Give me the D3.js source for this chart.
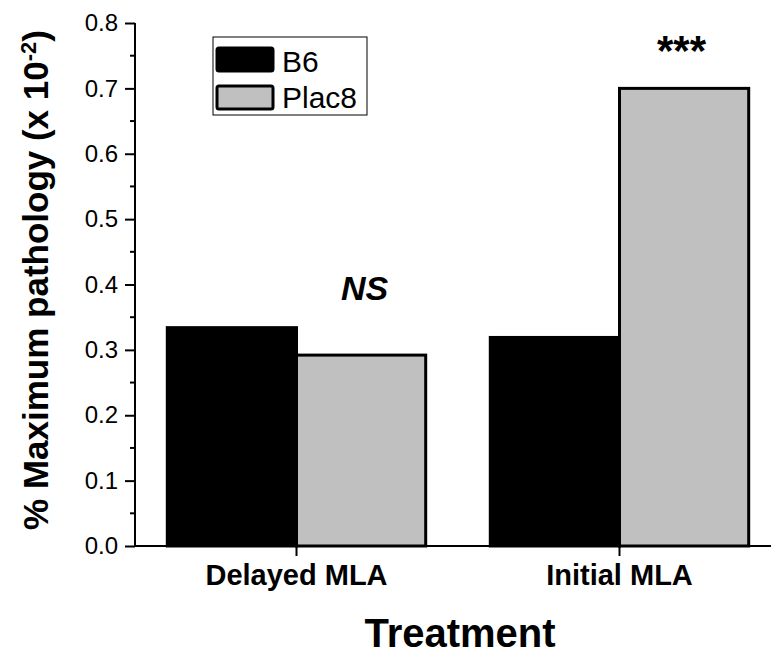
<!DOCTYPE html>
<html>
<head>
<meta charset="utf-8">
<script src="https://cdn.jsdelivr.net/npm/d3@7"></script>
<style>
  body { margin: 0; background: #fff; }
  text { font-family: "Liberation Sans", Arial, sans-serif; }
</style>
</head>
<body>
<svg width="771" height="656"></svg>
<script>
// data
const treatments = ["Delayed MLA", "Initial MLA"];
const groups = ["B6", "Plac8"];
const b6Values = [0.334, 0.319];
const plac8Values = [0.292, 0.700];
const annotations = ["NS", "***"];
const yTicks = [0, 0.1, 0.2, 0.3, 0.4, 0.5, 0.6, 0.7, 0.8];

const svg = d3.select("svg");
const fills = { B6: "#000000", Plac8: "#c0c0c0" };

// treatments sit at positions 1 and 2
const x = d3.scaleLinear().domain([0.5, 2.5]).range([135, 781]);
const y = d3.scaleLinear().domain([0, 0.8]).range([546, 23]);
const barW = 0.4;

const series = [
    { name: "B6", values: b6Values, offset: -barW },
    { name: "Plac8", values: plac8Values, offset: 0 }
];

series.forEach(s => {
    svg.selectAll(".bar-" + s.name)
        .data(s.values)
        .enter().append("rect")
        .attr("x", (d, i) => x(i + 1 + s.offset))
        .attr("width", x(barW) - x(0))
        .attr("y", d => y(d))
        .attr("height", d => y(0) - y(d))
        .attr("fill", fills[s.name])
        .attr("stroke", "#000")
        .attr("stroke-width", 3);
});

// y axis
const yAxis = svg.append("g")
    .attr("transform", "translate(135,0)")
    .call(d3.axisLeft(y).tickValues(yTicks).tickFormat(d3.format(".1f")).tickSize(10).tickPadding(7));
yAxis.selectAll("text").style("font-size", "24px").attr("fill", "#000");
yAxis.selectAll("line, path").attr("stroke", "#000").attr("stroke-width", 2);
yAxis.select(".domain").attr("d", `M0,${y(0)}V${y(0.8)}`);

// minor ticks
svg.append("g").selectAll("line")
    .data(d3.range(8).map(i => i * 0.1 + 0.05))
    .enter().append("line")
    .attr("x1", 130).attr("x2", 135)
    .attr("y1", d => y(d)).attr("y2", d => y(d))
    .attr("stroke", "#000").attr("stroke-width", 2);

// x axis
svg.append("line")
    .attr("x1", 135).attr("x2", 771)
    .attr("y1", y(0)).attr("y2", y(0))
    .attr("stroke", "#000").attr("stroke-width", 2);
svg.append("g").selectAll("line")
    .data(treatments)
    .enter().append("line")
    .attr("x1", (d, i) => x(i + 1)).attr("x2", (d, i) => x(i + 1))
    .attr("y1", y(0)).attr("y2", y(0) + 10)
    .attr("stroke", "#000").attr("stroke-width", 2);
svg.append("g").selectAll("text")
    .data(treatments)
    .enter().append("text")
    .attr("x", (d, i) => x(i + 1))
    .attr("y", 585)
    .attr("text-anchor", "middle")
    .style("font-size", "29px")
    .style("font-weight", "bold")
    .text(d => d);

// axis titles
svg.append("text")
    .attr("x", 460).attr("y", 647)
    .attr("text-anchor", "middle")
    .style("font-size", "40px")
    .style("font-weight", "bold")
    .text("Treatment");

const yt = svg.append("text")
    .attr("transform", "translate(48,280) rotate(-90)")
    .attr("text-anchor", "middle")
    .style("font-size", "35px")
    .style("font-weight", "bold");
yt.append("tspan").text("% Maximum pathology (x 10");
yt.append("tspan").attr("dy", -12).style("font-size", "22px").text("-2");
yt.append("tspan").attr("dy", 12).text(")");

// significance marks
svg.append("g").selectAll("text")
    .data(annotations)
    .enter().append("text")
    .attr("x", (d, i) => x(i + 1) + (i === 0 ? 68 : 62))
    .attr("y", (d, i) => i === 0 ? 300 : 65)
    .attr("text-anchor", "middle")
    .style("font-size", (d, i) => i === 0 ? "34px" : "42px")
    .style("font-weight", "bold")
    .style("font-style", (d, i) => i === 0 ? "italic" : "normal")
    .text(d => d);

// legend
const lg = svg.append("g").attr("transform", "translate(213,37)");
lg.append("rect")
    .attr("width", 154).attr("height", 78)
    .attr("fill", "#fff").attr("stroke", "#000").attr("stroke-width", 1);
groups.forEach((gname, i) => {
    lg.append("rect")
        .attr("x", 4).attr("y", 11 + i * 38)
        .attr("width", 56).attr("height", 23)
        .attr("rx", 2)
        .attr("fill", fills[gname])
        .attr("stroke", "#000").attr("stroke-width", 3);
    lg.append("text")
        .attr("x", 69).attr("y", 35 + i * 36)
        .style("font-size", "30px")
        .text(gname);
});
</script>
</body>
</html>
